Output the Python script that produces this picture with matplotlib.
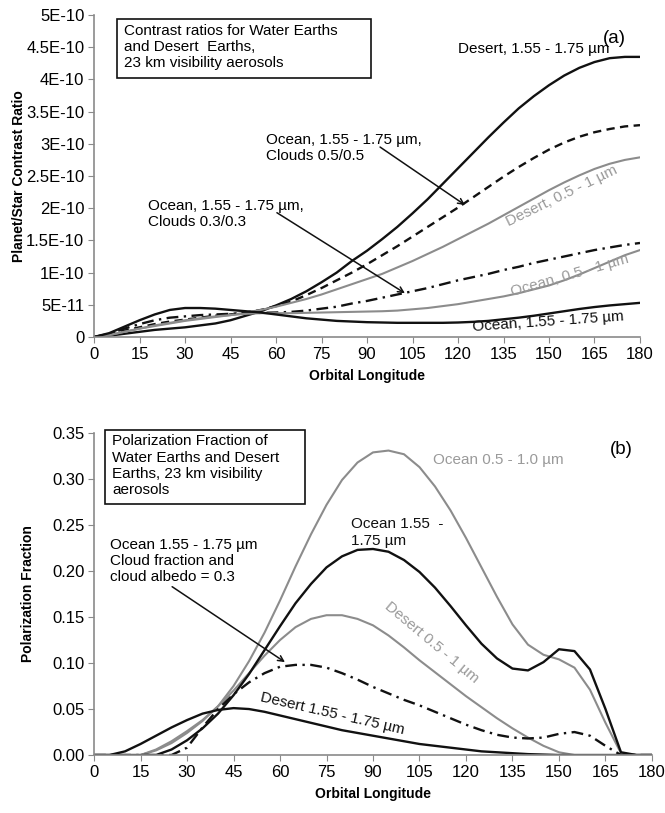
import numpy as np
import matplotlib
matplotlib.use('Agg')
import matplotlib.pyplot as plt
from matplotlib.patches import Rectangle

plt.rcParams['font.family'] = ['Liberation Sans', 'DejaVu Sans']

#%% data, panel (a): contrast ratio in units of 1E-11
lon = np.arange(0, 181, 5)

desert_155 = [0, 0.2, 0.5, 0.8, 1.1, 1.3, 1.5, 1.8, 2.1, 2.6, 3.3, 4.0, 4.9, 5.9, 7.1, 8.5,
              10.0, 11.8, 13.4, 15.2, 17.1, 19.2, 21.4, 23.8, 26.2, 28.6, 31.0, 33.3, 35.5,
              37.4, 39.1, 40.6, 41.8, 42.7, 43.3, 43.5, 43.5]
ocean_155 = [0, 0.6, 1.6, 2.6, 3.5, 4.2, 4.5, 4.5, 4.4, 4.2, 4.0, 3.8, 3.5, 3.2, 2.9, 2.7,
             2.5, 2.4, 2.3, 2.25, 2.2, 2.2, 2.2, 2.2, 2.25, 2.35, 2.5, 2.75, 3.0, 3.3, 3.65,
             4.0, 4.35, 4.65, 4.9, 5.1, 5.3]
ocean_155_cl05 = [0, 0.4, 1.0, 1.5, 2.0, 2.4, 2.7, 3.0, 3.3, 3.5, 3.8, 4.2, 4.8, 5.5, 6.5, 7.6,
                  8.8, 10.0, 11.3, 12.7, 14.1, 15.6, 17.1, 18.6, 20.1, 21.7, 23.3, 24.9, 26.4,
                  27.8, 29.1, 30.2, 31.1, 31.8, 32.3, 32.7, 32.9]
desert_05 = [0, 0.3, 0.8, 1.3, 1.7, 2.1, 2.5, 2.8, 3.1, 3.4, 3.8, 4.2, 4.7, 5.3, 5.9, 6.6,
             7.4, 8.2, 9.0, 9.8, 10.8, 11.8, 12.9, 14.0, 15.2, 16.4, 17.6, 18.9, 20.2, 21.5,
             22.8, 24.0, 25.1, 26.1, 26.9, 27.5, 27.9]
ocean_05 = [0, 0.3, 0.8, 1.3, 1.8, 2.2, 2.6, 2.9, 3.2, 3.4, 3.6, 3.7, 3.7, 3.7, 3.75, 3.8,
            3.85, 3.9, 3.95, 4.0, 4.1, 4.3, 4.5, 4.8, 5.1, 5.5, 5.9, 6.3, 6.8, 7.4, 8.0,
            8.8, 9.7, 10.7, 11.7, 12.7, 13.5]
ocean_155_cl03 = [0, 0.5, 1.3, 2.0, 2.6, 3.0, 3.2, 3.4, 3.5, 3.6, 3.7, 3.75, 3.8, 3.9, 4.1,
                  4.4, 4.7, 5.2, 5.6, 6.1, 6.6, 7.1, 7.6, 8.2, 8.8, 9.3, 9.8, 10.4, 10.9,
                  11.5, 12.0, 12.5, 13.0, 13.5, 13.9, 14.3, 14.6]

ylabels_a = ['0', '5E-11', '1E-10', '1.5E-10', '2E-10', '2.5E-10', '3E-10', '3.5E-10',
             '4E-10', '4.5E-10', '5E-10']

#%% data, panel (b): polarization fraction
pol_ocean_05 = [0, 0, 0, 0, 0.005, 0.013, 0.024, 0.037, 0.053, 0.075, 0.102, 0.133, 0.168,
                0.205, 0.240, 0.272, 0.299, 0.318, 0.329, 0.331, 0.327, 0.313, 0.292, 0.266,
                0.236, 0.204, 0.172, 0.142, 0.120, 0.109, 0.104, 0.095, 0.071, 0.035, 0.002, 0, 0]
pol_ocean_155 = [0, 0, 0, 0, 0, 0.006, 0.016, 0.029, 0.045, 0.065, 0.088, 0.114, 0.140,
                 0.165, 0.186, 0.204, 0.216, 0.223, 0.224, 0.221, 0.212, 0.199, 0.182, 0.162,
                 0.141, 0.121, 0.105, 0.094, 0.092, 0.101, 0.115, 0.113, 0.093, 0.050, 0.003, 0, 0]
pol_desert_05 = [0, 0, 0, 0, 0.006, 0.015, 0.026, 0.038, 0.053, 0.070, 0.089, 0.108, 0.125,
                 0.139, 0.148, 0.152, 0.152, 0.148, 0.141, 0.130, 0.117, 0.103, 0.090, 0.077,
                 0.064, 0.052, 0.040, 0.029, 0.019, 0.010, 0.003, 0, 0, 0, 0, 0, 0]
pol_ocean_155_cl03 = [0, 0, 0, 0, 0, 0, 0.008, 0.030, 0.050, 0.066, 0.079, 0.089, 0.096,
                      0.098, 0.098, 0.095, 0.089, 0.082, 0.074, 0.067, 0.060, 0.054, 0.047,
                      0.040, 0.033, 0.027, 0.022, 0.019, 0.018, 0.019, 0.023, 0.025, 0.021,
                      0.010, 0, 0, 0]
pol_desert_155 = [0, 0, 0.004, 0.012, 0.021, 0.030, 0.038, 0.045, 0.049, 0.051, 0.050, 0.047,
                  0.043, 0.039, 0.035, 0.031, 0.027, 0.024, 0.021, 0.018, 0.015, 0.012, 0.010,
                  0.008, 0.006, 0.004, 0.003, 0.002, 0.001, 0.0005, 0, 0, 0, 0, 0, 0, 0]

#%% styles
BLACK = '#111111'
GRAY = '#8c8c8c'
TGRAY = '#9a9a9a'
SPINE = '#8a8a8a'
FS = 11
LS = 1.2


def style_axes(ax):
    for s in ['top', 'right']:
        ax.spines[s].set_visible(False)
    for s in ['left', 'bottom']:
        ax.spines[s].set_color(SPINE)
        ax.spines[s].set_linewidth(1.2)
    ax.tick_params(direction='out', length=4, color=SPINE, labelsize=12, pad=3)
    ax.set_xlim(0, 180)
    ax.set_xticks(np.arange(0, 181, 15))
    ax.set_xlabel('Orbital Longitude', fontsize=10, fontweight='bold', labelpad=5)


def arrow(ax, start, tip):
    ax.annotate('', xy=tip, xytext=start,
                arrowprops=dict(arrowstyle='->', color=BLACK, lw=1.1, shrinkA=0, shrinkB=0))


def box(ax, x0, y0, x1, y1):
    ax.add_patch(Rectangle((x0, y0), x1 - x0, y1 - y0, transform=ax.transAxes,
                           fc='white', ec=BLACK, lw=1.2, clip_on=False, zorder=3))


fig = plt.figure(figsize=(6.65, 8.13), dpi=100)

#%% panel (a)
ax1 = fig.add_axes([0.1414, 0.5855, 0.821, 0.396])
style_axes(ax1)
e = 1e-11
ax1.plot(lon, np.array(desert_155) * e, color=BLACK, lw=1.7)
ax1.plot(lon, np.array(ocean_155_cl05) * e, color=BLACK, lw=1.7, dashes=(3.5, 2.3))
ax1.plot(lon, np.array(desert_05) * e, color=GRAY, lw=1.5)
ax1.plot(lon, np.array(ocean_155_cl03) * e, color=BLACK, lw=1.7, dashes=(5, 2.3, 1, 2.3))
ax1.plot(lon, np.array(ocean_05) * e, color=GRAY, lw=1.5)
ax1.plot(lon, np.array(ocean_155) * e, color=BLACK, lw=1.7)
ax1.set_ylim(0, 5e-10)
ax1.set_yticks(np.arange(0, 11) * 5e-11)
ax1.set_yticklabels(ylabels_a)
ax1.set_ylabel('Planet/Star Contrast Ratio', fontsize=10, fontweight='bold', labelpad=0)

box(ax1, 0.042, 0.804, 0.507, 0.988)
ax1.text(0.055, 0.972, 'Contrast ratios for Water Earths\nand Desert  Earths,\n23 km visibility aerosols',
         transform=ax1.transAxes, ha='left', va='top', fontsize=FS, linespacing=LS, zorder=4)
ax1.text(167.8, 4.64e-10, '(a)', fontsize=13.5, ha='left', va='center')
ax1.text(169.8, 4.48e-10, 'Desert, 1.55 - 1.75 µm', fontsize=FS, ha='right', va='center')
ax1.text(56.7, 2.93e-10, 'Ocean, 1.55 - 1.75 µm,\nClouds 0.5/0.5', fontsize=FS,
         ha='left', va='center', linespacing=LS)
arrow(ax1, (94.3, 2.95e-10), (122.3, 2.05e-10))
ax1.text(17.8, 1.91e-10, 'Ocean, 1.55 - 1.75 µm,\nClouds 0.3/0.3', fontsize=FS,
         ha='left', va='center', linespacing=LS)
arrow(ax1, (60.3, 1.93e-10), (102.5, 0.68e-10))
ax1.text(154.3, 2.19e-10, 'Desert, 0.5 - 1 µm', fontsize=FS, color=TGRAY, rotation=26,
         ha='center', va='center', rotation_mode='anchor')
ax1.text(157, 0.95e-10, 'Ocean, 0.5 - 1 µm', fontsize=FS, color=TGRAY, rotation=16,
         ha='center', va='center', rotation_mode='anchor')
ax1.text(149.7, 0.23e-10, 'Ocean, 1.55 - 1.75 µm', fontsize=FS, color=BLACK, rotation=4,
         ha='center', va='center', rotation_mode='anchor')

#%% panel (b)
ax2 = fig.add_axes([0.1414, 0.0713, 0.839, 0.396])
style_axes(ax2)
ax2.plot(lon, pol_ocean_05, color=GRAY, lw=1.5)
ax2.plot(lon, pol_desert_05, color=GRAY, lw=1.5)
ax2.plot(lon, pol_ocean_155, color=BLACK, lw=1.7)
ax2.plot(lon, pol_ocean_155_cl03, color=BLACK, lw=1.7, dashes=(5, 2.3, 1, 2.3))
ax2.plot(lon, pol_desert_155, color=BLACK, lw=1.7)
ax2.set_ylim(0, 0.35)
ax2.set_yticks(np.arange(0, 0.351, 0.05))
ax2.set_yticklabels(['%.2f' % v for v in np.arange(0, 0.351, 0.05)])
ax2.set_ylabel('Polarization Fraction', fontsize=10, fontweight='bold', labelpad=12)

box(ax2, 0.0197, 0.780, 0.378, 1.009)
ax2.text(0.032, 0.996, 'Polarization Fraction of\nWater Earths and Desert\nEarths, 23 km visibility\naerosols',
         transform=ax2.transAxes, ha='left', va='top', fontsize=FS, linespacing=LS, zorder=4)
ax2.text(166.5, 0.332, '(b)', fontsize=13.5, ha='left', va='center')
ax2.text(109.4, 0.321, 'Ocean 0.5 - 1.0 µm', fontsize=FS, color=TGRAY, ha='left', va='center')
ax2.text(82.9, 0.242, 'Ocean 1.55  -\n1.75 µm', fontsize=FS, color=BLACK, ha='left', va='center',
         linespacing=LS)
ax2.text(5.2, 0.211, 'Ocean 1.55 - 1.75 µm\nCloud fraction and\ncloud albedo = 0.3', fontsize=FS,
         ha='left', va='center', linespacing=LS)
arrow(ax2, (25.2, 0.183), (61.6, 0.101))
ax2.text(109, 0.122, 'Desert 0.5 - 1 µm', fontsize=FS, color=TGRAY, rotation=-40,
         ha='center', va='center', rotation_mode='anchor')
ax2.text(77, 0.045, 'Desert 1.55 - 1.75 µm', fontsize=FS, color=BLACK, rotation=-13,
         ha='center', va='center', rotation_mode='anchor')

fig.savefig('out.png', dpi=100)
